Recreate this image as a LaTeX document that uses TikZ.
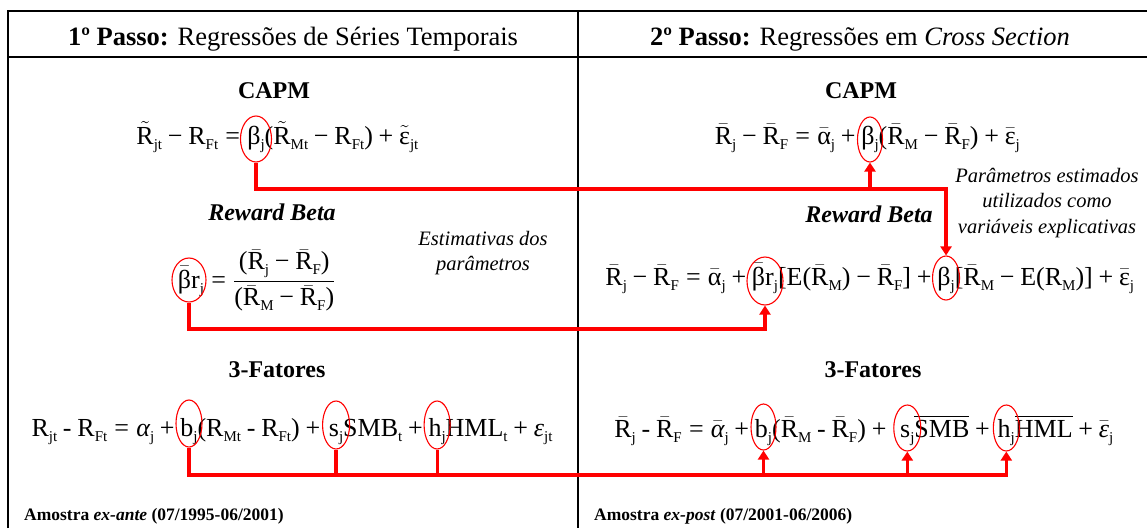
\RequirePackage{fix-cm}
\documentclass[tikz,border=0pt]{standalone}
\usepackage{amsmath}
\usepackage[no-math]{fontspec}
\setmainfont{Liberation Serif}
\usetikzlibrary{arrows.meta,shapes.geometric}
\newcommand\tx[1]{\text{#1}}
\newcommand\Rb{\bar{\tx{R}}}
\newcommand\Rt{\tilde{\tx{R}}}
\newcommand\sbs[1]{\raisebox{-5pt}{\fontsize{15}{15}\selectfont #1}}
\newcommand\hy{\mathbin{\tx{-}}}
\newcommand\mn{\mathbin{\tx{−}}}
\newcommand\pl{\mathbin{\tx{+}}}
\newcommand\eq{\mathrel{\tx{=}}}
\begin{document}
\begin{tikzpicture}[x=1pt,y=-1pt,
  fm/.style={inner sep=0pt,outer sep=0pt,font=\fontsize{26}{30}\selectfont},
  hdr/.style={inner sep=0pt,anchor=base,font=\fontsize{26.5}{30}\selectfont},
  ttl/.style={inner sep=0pt,anchor=base,font=\fontsize{24}{28}\selectfont\bfseries},
  note/.style={inner sep=0pt,anchor=north,align=center,font=\fontsize{20.5}{25.5}\selectfont\itshape},
  amo/.style={inner sep=0pt,anchor=base west,font=\fontsize{17.5}{20}\selectfont\bfseries},
  frame/.style={line width=2pt,black},
  ell/.style={draw=red,ellipse,line width=1.1pt,inner sep=0pt},
  redl/.style={draw=red,line width=3.2pt},
  arr/.style={redl,-{Triangle[length=9pt,width=11pt]}}]
\path[use as bounding box,fill=white] (0,0) rectangle (1147,528);
% frame
\draw[frame] (8,528) -- (8,11) -- (1147,11);
\draw[frame] (8,56.5) -- (1147,56.5);
\draw[frame] (578,11) -- (578,528);
% headers
\node[hdr] (h1) at (293,45) {\textbf{1º Passo:} Regressões de Séries Temporais};
\node[hdr] (h2) at (860,45) {\textbf{2º Passo:} Regressões em \textit{Cross Section}};
% titles
\node[ttl] (t1) at (274,98) {CAPM};
\node[ttl] (t2) at (861,98) {CAPM};
\node[ttl] (t3) at (272,220) {\itshape Reward Beta};
\node[ttl] (t4) at (869,222) {\itshape Reward Beta};
\node[ttl] (t5) at (277,377) {3-Fatores};
\node[ttl] (t6) at (873,377) {3-Fatores};
% notes
\node[note] (n1) at (483,231) {Estimativas dos\\parâmetros};
\node[note] (n2) at (1047,168) {Parâmetros estimados\\utilizados como\\variáveis explicativas};
\node[amo] (a1) at (24,520) {Amostra \textit{ex-ante} (07/1995-06/2001)};
\node[amo] (a2) at (594,520) {Amostra \textit{ex-post} (07/2001-06/2006)};
% ---- left CAPM
\node[fm,anchor=base] (lcb) at (256,144) {$\tx{β}\sbs{j}$};
\node[fm,anchor=base east] (lca) at (lcb.base west) {$\Rt\sbs{jt} \mn \tx{R}\sbs{Ft} \eq {}$};
\node[fm,anchor=base west] (lcc) at (lcb.base east) {${}\tx{(}\Rt\sbs{Mt} \mn \tx{R}\sbs{Ft}\tx{)} \pl \tilde{\tx{ε}}\sbs{jt}$};
\node[ell,minimum width=31pt,minimum height=46pt] (lce) at (256,139) {};
% ---- right CAPM
\node[fm,anchor=base] (rcb) at (870,144) {$\tx{β}\sbs{j}$};
\node[fm,anchor=base east] (rca) at (rcb.base west) {$\Rb\sbs{j} \mn \Rb\sbs{F} \eq \bar{\tx{α}}\sbs{j} \pl {}$};
\node[fm,anchor=base west] (rcc) at (rcb.base east) {${}\tx{(}\Rb\sbs{M} \mn \Rb\sbs{F}\tx{)} \pl \bar{\tx{ε}}\sbs{j}$};
\node[ell,minimum width=25pt,minimum height=45pt] (rce) at (870,139.5) {};
% ---- left reward beta
\node[fm,anchor=base] (lrb) at (191,288) {$\bar{\tx{β}}\tx{r}\sbs{j}$};
\node[fm,anchor=base west] (lrc) at (lrb.base east) {${}\eq\dfrac{\tx{(}\Rb\sbs{j} \mn \Rb\sbs{F}\tx{)}}{\tx{(}\Rb\sbs{M} \mn \Rb\sbs{F}\tx{)}}$};
\node[ell,minimum width=34pt,minimum height=44pt] (lre) at (189,280) {};
% ---- right reward beta
\node[fm,anchor=base] (rrb) at (765,285) {$\bar{\tx{β}}\tx{r}\sbs{j}$};
\node[fm,anchor=base east] (rra) at (rrb.base west) {$\Rb\sbs{j} \mn \Rb\sbs{F} \eq \bar{\tx{α}}\sbs{j} \pl {}$};
\node[fm,anchor=base west] (rrc) at (rrb.base east) {$\tx{[E(}\Rb\sbs{M}\tx{)} \mn \Rb\sbs{F}\tx{]} \pl {}$};
\node[fm,anchor=base west] (rrd) at (rrc.base east) {$\tx{β}\sbs{j}$};
\node[fm,anchor=base west] (rrf) at (rrd.base east) {$\tx{[}\Rb\sbs{M} \mn \tx{E(R}\sbs{M}\tx{)]} \pl \bar{\tx{ε}}\sbs{j}$};
\node[ell,minimum width=36pt,minimum height=48pt] (rre) at (765,281) {};
\node[ell,minimum width=27pt,minimum height=44pt] (rrde) at (rrd.center |- 0,278) {};
% ---- left 3 factors
\node[fm,anchor=base] (l3b) at (189,436) {$\tx{b}\sbs{j}$};
\node[fm,anchor=base east] (l3a) at (l3b.base west) {$\tx{R}\sbs{jt}\hy\tx{R}\sbs{Ft} \eq \tx{\itshape α}\sbs{j} \pl {}$};
\node[fm,anchor=base west] (l3c) at (l3b.base east) {$\tx{(R}\sbs{Mt}\hy\tx{R}\sbs{Ft}\tx{)} \pl \mkern2mu{}$};
\node[fm,anchor=base west] (l3d) at (l3c.base east) {$\tx{s}\sbs{j}$};
\node[fm,anchor=base west] (l3e) at (l3d.base east) {$\tx{SMB}\sbs{t} \pl {}$};
\node[fm,anchor=base west] (l3f) at (l3e.base east) {$\tx{h}\sbs{j}$};
\node[fm,anchor=base west] (l3g) at (l3f.base east) {$\tx{HML}\sbs{t} \pl \tx{\itshape ε}\sbs{jt}$};
\node[ell,minimum width=26pt,minimum height=47pt] (l3be) at (189,423.5) {};
\node[ell,minimum width=27pt,minimum height=48pt] (l3de) at (l3d.center |- 0,425) {};
\node[ell,minimum width=26pt,minimum height=48pt] (l3fe) at (l3f.center |- 0,425) {};
% ---- right 3 factors
\node[fm,anchor=base] (r3b) at (763.5,437) {$\tx{b}\sbs{j}$};
\node[fm,anchor=base east] (r3a) at (r3b.base west) {$\Rb\sbs{j}\hy\Rb\sbs{F} \eq \bar{\tx{\itshape α}}\sbs{j} \pl {}$};
\node[fm,anchor=base west] (r3c) at (r3b.base east) {$\tx{(}\Rb\sbs{M}\hy\Rb\sbs{F}\tx{)} \pl \mkern5.5mu{}$};
\node[fm,anchor=base west] (r3d) at (r3c.base east) {$\tx{s}\sbs{j}$};
\node[fm,anchor=base west] (r3e) at (r3d.base east) {$\overline{\tx{SMB}} \pl \mkern1.5mu{}$};
\node[fm,anchor=base west] (r3f) at (r3e.base east) {$\tx{h}\sbs{j}$};
\node[fm,anchor=base west] (r3g) at (r3f.base east) {$\overline{\tx{HML}} \pl \bar{\tx{\itshape ε}}\sbs{j}$};
\node[ell,minimum width=25pt,minimum height=46pt] (r3be) at (763.5,427) {};
\node[ell,minimum width=27pt,minimum height=46pt] (r3de) at (r3d.center |- 0,428) {};
\node[ell,minimum width=26pt,minimum height=46pt] (r3fe) at (r3f.center |- 0,428) {};
% ---- connectors
\coordinate (hA) at (0,189);
\coordinate (hB) at (0,329);
\coordinate (hC) at (0,475);
\draw[arr] (lce.south) |- (rrde.north |- hA) -- (rrde.north);
\draw[arr] (rce.south |- hA) -- (rce.south);
\draw[arr] (lre.south) |- (rre.south |- hB) -- (rre.south);
\draw[arr] (l3be.south) |- (r3fe.south |- hC) -- (r3fe.south);
\draw[redl] (l3de.south) -- (l3de.south |- hC);
\draw[redl] (l3fe.south) -- (l3fe.south |- hC);
\draw[arr] (r3be.south |- hC) -- (r3be.south);
\draw[arr] (r3de.south |- hC) -- (r3de.south);
\end{tikzpicture}
\end{document}
